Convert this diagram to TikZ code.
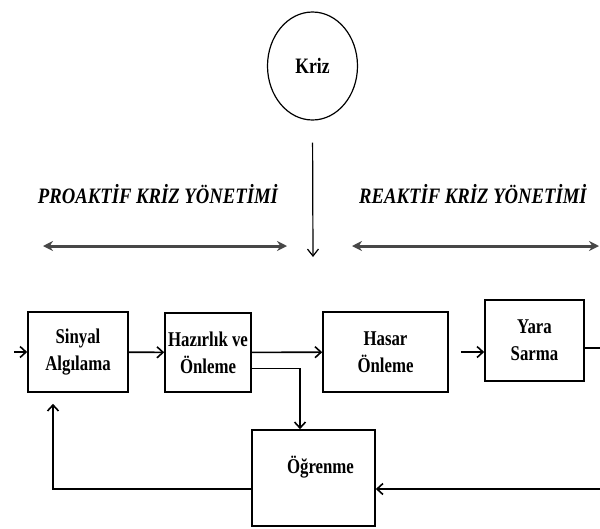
\documentclass[tikz,border=0pt]{standalone}
\usepackage{fontspec}
\setmainfont{Liberation Serif}
\newfontfamily\narrowserif[FakeStretch=0.8]{Liberation Serif}
\newfontfamily\phaseserif[FakeStretch=0.85]{Liberation Serif}
\usetikzlibrary{arrows.meta,shapes.geometric}
\tikzset{
  stage/.style={draw, line width=1.6pt, rectangle, align=center, inner sep=0pt,
    font=\narrowserif\fontsize{21}{27}\selectfont\bfseries},
  flow/.style={line width=1.6pt, -{Straight Barb[length=6pt,width=11pt,line width=1.6pt]}},
  span/.style={line width=3pt, draw=black!72, {Stealth[length=10pt,width=10pt]}-{Stealth[length=10pt,width=10pt]}},
  phase/.style={font=\phaseserif\fontsize{22}{26}\selectfont\bfseries\itshape}
}

\begin{document}
\begin{tikzpicture}[x=1pt,y=-1pt]
			\useasboundingbox (0,0) rectangle (600,528);

			\node [ellipse, draw, line width=1.2pt, minimum width=90pt, minimum height=108pt,
				font=\narrowserif\fontsize{22}{26}\selectfont\bfseries](kriz) at (312.5,66) {Kriz};
			\coordinate (k2) at (313,257);
			\draw [line width=1.2pt, -{Straight Barb[length=7pt,width=11pt,line width=1.2pt]},
				shorten <=22pt](kriz.south) -- (k2);

			\node [phase](pro) at (158,194) {PROAKTİF KRİZ YÖNETİMİ};
			\node [phase](rea) at (473,194) {REAKTİF KRİZ YÖNETİMİ};

			\coordinate (pl) at (43,246);
			\coordinate (pr) at (287,246);
			\coordinate (rl) at (352,246);
			\coordinate (rr) at (599,246);
			\draw [span](pl) -- (pr);
			\draw [span](rl) -- (rr);

			\node [stage, minimum width=100pt, minimum height=80pt](sinyal) at (78,352) {Sinyal\\Algılama};
			\node [stage, minimum width=86pt, minimum height=79pt](hazirlik) at (208,352.5) {Hazırlık ve\\Önleme};
			\node [stage, minimum width=125pt, minimum height=80pt](hasar) at (385.5,352) {Hasar\\Önleme};
			\node [stage, minimum width=99pt, minimum height=81pt](yara) at (534.5,340.5) {Yara\\Sarma};
			\node [stage, minimum width=123pt, minimum height=96pt,
				label={[font=\narrowserif\fontsize{21}{26}\selectfont\bfseries, xshift=7pt, yshift=11pt]center:Öğrenme}](ogrenme) at (313.5,478) {};

			\coordinate (in) at (14,352);
			\coordinate (e1) at (607,348);
			\coordinate (e2) at (607,489);
			\coordinate (b1) at (53,489);

			\draw [flow](in) -- (sinyal);
			\draw [flow](sinyal) -- (hazirlik);
			\draw [flow](hazirlik) -- (hasar);
			\draw [flow]([yshift=-16pt]hazirlik.east) -| ([xshift=-13.5pt]ogrenme.north);
			\draw [flow, shorten <=12pt](hasar.east) -- (yara.west |- hasar.east);
			\draw [flow]([yshift=-7.5pt]yara.east) -- (e1) -- (e2) -- (ogrenme.east |- e2);
			\draw [flow, shorten >=11pt](ogrenme.west |- b1) -- (b1) -- (b1 |- sinyal.south);

		\end{tikzpicture}
\end{document}
